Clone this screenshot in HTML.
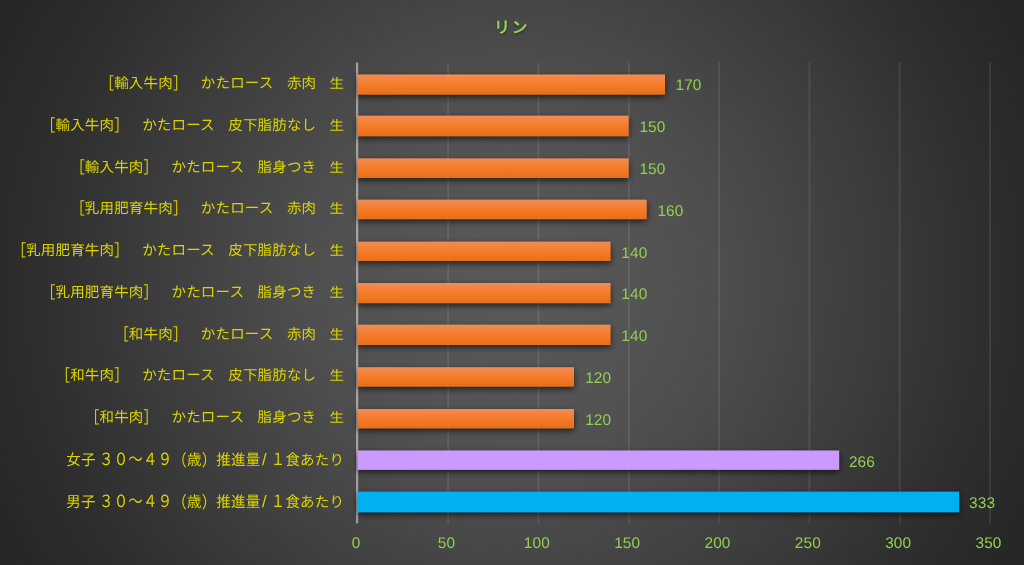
<!DOCTYPE html>
<html lang="ja"><head><meta charset="utf-8"><title>リン</title>
<style>
html,body{margin:0;padding:0;}
body{width:1024px;height:565px;overflow:hidden;background:#262626;font-family:"Liberation Sans","Noto Sans CJK JP",sans-serif;text-rendering:geometricPrecision;}
#chart{position:relative;width:1024px;height:565px;overflow:hidden;background:radial-gradient(circle 585px at 50% 50%, rgb(89.0,89.0,89.0) 0px, rgb(88.5,88.5,88.5) 15px, rgb(88.1,88.1,88.1) 30px, rgb(87.7,87.7,87.7) 45px, rgb(87.0,87.0,87.0) 60px, rgb(86.2,86.2,86.2) 75px, rgb(85.5,85.5,85.5) 90px, rgb(84.7,84.7,84.7) 105px, rgb(83.9,83.9,83.9) 120px, rgb(83.1,83.1,83.1) 135px, rgb(82.2,82.2,82.2) 150px, rgb(81.2,81.2,81.2) 165px, rgb(80.2,80.2,80.2) 180px, rgb(79.0,79.0,79.0) 195px, rgb(77.5,77.5,77.5) 210px, rgb(76.0,76.0,76.0) 225px, rgb(74.3,74.3,74.3) 240px, rgb(72.5,72.5,72.5) 255px, rgb(70.7,70.7,70.7) 270px, rgb(68.9,68.9,68.9) 285px, rgb(67.2,67.2,67.2) 300px, rgb(65.4,65.4,65.4) 315px, rgb(63.7,63.7,63.7) 330px, rgb(61.9,61.9,61.9) 345px, rgb(60.2,60.2,60.2) 360px, rgb(58.6,58.6,58.6) 375px, rgb(56.7,56.7,56.7) 390px, rgb(54.8,54.8,54.8) 405px, rgb(52.8,52.8,52.8) 420px, rgb(50.9,50.9,50.9) 435px, rgb(49.0,49.0,49.0) 450px, rgb(47.3,47.3,47.3) 465px, rgb(45.9,45.9,45.9) 480px, rgb(44.5,44.5,44.5) 495px, rgb(43.1,43.1,43.1) 510px, rgb(41.9,41.9,41.9) 525px, rgb(40.7,40.7,40.7) 540px, rgb(39.5,39.5,39.5) 555px, rgb(38.8,38.8,38.8) 570px, rgb(38.0,38.0,38.0) 585px);}
#lines,#bars{position:absolute;left:0;top:0;}
.lab{position:absolute;right:679.9px;white-space:nowrap;color:#dcd400;font-size:14.5px;letter-spacing:0.17px;line-height:20px;height:20px;transform-origin:100% 50%;}
.lab span{display:inline-block;transform-origin:50% 55%;}
.j{transform:scaleY(0.98);}
.k{transform:translateX(0.0px) scaleY(1.0);}
.b{transform:translateY(1.0px) scaleY(1.12);}
.jl{transform:scaleY(0.9);}
.lab .d{transform:scaleY(1.15);transform-origin:50% 82%;}
.lab .j2{transform:scaleY(1.04);transform-origin:50% 82%;}
.sp{overflow:hidden;height:20px;vertical-align:top;}
.w1{width:13.3px;}
.w2{width:13.47px;}
.w3{width:13.17px;}
.s1{margin-right:3.4px;}
.lab .sl{width:10.4px;box-sizing:border-box;padding-left:1.6px;font-size:16.5px;line-height:20px;vertical-align:baseline;letter-spacing:0;}
.val{position:absolute;white-space:nowrap;color:#92d050;font-size:15.4px;letter-spacing:0.1px;line-height:20px;height:20px;transform:scaleY(1.0);transform-origin:0 50%;}
.tick{position:absolute;width:60px;text-align:center;white-space:nowrap;color:#92d050;font-size:15.4px;letter-spacing:0.1px;line-height:20px;height:20px;top:534.3px;transform:scaleY(1.0);transform-origin:50% 50%;}
#title{position:absolute;left:411.6px;width:200px;text-align:center;top:16.60px;line-height:24px;height:24px;font-size:16.0px;font-weight:bold;letter-spacing:1.6px;color:#92d050;text-shadow:0 1px 2px rgba(0,0,0,0.5);}
</style></head><body>
<div id="chart">
<div id="title">リン</div>
<svg id="lines" width="1024" height="565" viewBox="0 0 1024 565">
<rect x="447.18" y="62.6" width="1.9" height="460.70" fill="#f2f2f2" fill-opacity="0.095"/>
<rect x="537.51" y="62.6" width="1.9" height="460.70" fill="#f2f2f2" fill-opacity="0.095"/>
<rect x="627.84" y="62.6" width="1.9" height="460.70" fill="#f2f2f2" fill-opacity="0.095"/>
<rect x="718.16" y="62.6" width="1.9" height="460.70" fill="#f2f2f2" fill-opacity="0.095"/>
<rect x="808.49" y="62.6" width="1.9" height="460.70" fill="#f2f2f2" fill-opacity="0.095"/>
<rect x="898.82" y="62.6" width="1.9" height="460.70" fill="#f2f2f2" fill-opacity="0.095"/>
<rect x="989.15" y="62.6" width="1.9" height="460.70" fill="#f2f2f2" fill-opacity="0.095"/>
<rect x="356.00" y="62.6" width="2.2" height="460.70" fill="#f2f2f2" fill-opacity="0.52"/>
</svg>
<div class="lab" style="top:74px"><span class="b">［</span><span class="j">輸入牛肉</span><span class="b">］</span><span class="sp w1">　</span><span class="k">かたロース</span><span class="sp w2">　</span><span class="j">赤肉</span><span class="sp w3">　</span><span class="jl">生</span></div>
<div class="val" style="top:76px;left:675.52px">170</div>
<div class="lab" style="top:116px"><span class="b">［</span><span class="j">輸入牛肉</span><span class="b">］</span><span class="sp w1">　</span><span class="k">かたロース</span><span class="sp w2">　</span><span class="j">皮下脂肪</span><span class="k">なし</span><span class="sp w3">　</span><span class="jl">生</span></div>
<div class="val" style="top:118px;left:639.39px">150</div>
<div class="lab" style="top:158px"><span class="b">［</span><span class="j">輸入牛肉</span><span class="b">］</span><span class="sp w1">　</span><span class="k">かたロース</span><span class="sp w2">　</span><span class="j">脂身</span><span class="k">つき</span><span class="sp w3">　</span><span class="jl">生</span></div>
<div class="val" style="top:160px;left:639.39px">150</div>
<div class="lab" style="top:199px"><span class="b">［</span><span class="j">乳用肥育牛肉</span><span class="b">］</span><span class="sp w1">　</span><span class="k">かたロース</span><span class="sp w2">　</span><span class="j">赤肉</span><span class="sp w3">　</span><span class="jl">生</span></div>
<div class="val" style="top:202px;left:657.45px">160</div>
<div class="lab" style="top:241px"><span class="b">［</span><span class="j">乳用肥育牛肉</span><span class="b">］</span><span class="sp w1">　</span><span class="k">かたロース</span><span class="sp w2">　</span><span class="j">皮下脂肪</span><span class="k">なし</span><span class="sp w3">　</span><span class="jl">生</span></div>
<div class="val" style="top:244px;left:621.32px">140</div>
<div class="lab" style="top:283px"><span class="b">［</span><span class="j">乳用肥育牛肉</span><span class="b">］</span><span class="sp w1">　</span><span class="k">かたロース</span><span class="sp w2">　</span><span class="j">脂身</span><span class="k">つき</span><span class="sp w3">　</span><span class="jl">生</span></div>
<div class="val" style="top:285px;left:621.32px">140</div>
<div class="lab" style="top:325px"><span class="b">［</span><span class="j">和牛肉</span><span class="b">］</span><span class="sp w1">　</span><span class="k">かたロース</span><span class="sp w2">　</span><span class="j">赤肉</span><span class="sp w3">　</span><span class="jl">生</span></div>
<div class="val" style="top:327px;left:621.32px">140</div>
<div class="lab" style="top:366px"><span class="b">［</span><span class="j">和牛肉</span><span class="b">］</span><span class="sp w1">　</span><span class="k">かたロース</span><span class="sp w2">　</span><span class="j">皮下脂肪</span><span class="k">なし</span><span class="sp w3">　</span><span class="jl">生</span></div>
<div class="val" style="top:369px;left:585.19px">120</div>
<div class="lab" style="top:408px"><span class="b">［</span><span class="j">和牛肉</span><span class="b">］</span><span class="sp w1">　</span><span class="k">かたロース</span><span class="sp w2">　</span><span class="j">脂身</span><span class="k">つき</span><span class="sp w3">　</span><span class="jl">生</span></div>
<div class="val" style="top:411px;left:585.19px">120</div>
<div class="lab" style="top:450px"><span class="j2 s1">女子</span><span class="d">３０～４９</span><span class="b">（</span><span class="j2">歳</span><span class="b">）</span><span class="j2">推進量</span><span class="sl">/</span><span class="d">１</span><span class="j2">食</span><span class="k">あたり</span></div>
<div class="val" style="top:453px;left:848.95px">266</div>
<div class="lab" style="top:492px"><span class="j2 s1">男子</span><span class="d">３０～４９</span><span class="b">（</span><span class="j2">歳</span><span class="b">）</span><span class="j2">推進量</span><span class="sl">/</span><span class="d">１</span><span class="j2">食</span><span class="k">あたり</span></div>
<div class="val" style="top:494px;left:969.09px">333</div>
<svg id="bars" width="1024" height="565" viewBox="0 0 1024 565"><defs><linearGradient id="og" x1="0" y1="0" x2="0" y2="1"><stop offset="0" stop-color="#f18c55"/><stop offset="0.5" stop-color="#f67b28"/><stop offset="1" stop-color="#e66f1c"/></linearGradient><filter id="sh" x="-5%" y="-60%" width="110%" height="220%"><feDropShadow dx="0" dy="2.4" stdDeviation="3.0" flood-color="#000" flood-opacity="0.66"/></filter></defs>
<rect x="357.6" y="74.50" width="307.40" height="20.10" fill="url(#og)" filter="url(#sh)"/>
<rect x="357.6" y="115.70" width="271.00" height="20.50" fill="url(#og)" filter="url(#sh)"/>
<rect x="357.6" y="158.40" width="271.00" height="19.60" fill="url(#og)" filter="url(#sh)"/>
<rect x="357.6" y="199.70" width="289.10" height="19.40" fill="url(#og)" filter="url(#sh)"/>
<rect x="357.6" y="241.70" width="252.90" height="19.30" fill="url(#og)" filter="url(#sh)"/>
<rect x="357.6" y="283.00" width="252.90" height="20.10" fill="url(#og)" filter="url(#sh)"/>
<rect x="357.6" y="324.70" width="252.90" height="20.30" fill="url(#og)" filter="url(#sh)"/>
<rect x="357.6" y="367.20" width="216.40" height="19.40" fill="url(#og)" filter="url(#sh)"/>
<rect x="357.6" y="409.00" width="216.40" height="19.30" fill="url(#og)" filter="url(#sh)"/>
<rect x="357.6" y="450.50" width="481.50" height="19.30" fill="#cc99ff" filter="url(#sh)"/>
<rect x="357.6" y="491.70" width="601.50" height="20.50" fill="#00b0f0" filter="url(#sh)"/>
</svg>
<div class="tick" style="left:326.20px">0</div>
<div class="tick" style="left:416.53px">50</div>
<div class="tick" style="left:506.86px">100</div>
<div class="tick" style="left:597.19px">150</div>
<div class="tick" style="left:687.51px">200</div>
<div class="tick" style="left:777.84px">250</div>
<div class="tick" style="left:868.17px">300</div>
<div class="tick" style="left:958.50px">350</div>
</div></body></html>
